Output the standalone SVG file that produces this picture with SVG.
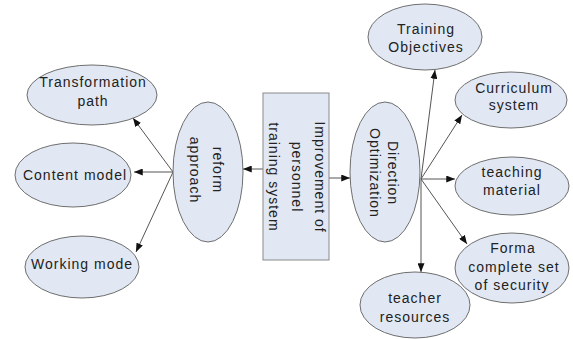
<svg xmlns="http://www.w3.org/2000/svg" width="573" height="339" viewBox="0 0 573 339">
<style>
.n{fill:#e1e8f4;stroke:#6e6e6e;stroke-width:1}
.r{fill:#e1e8f4;stroke:#8a8a8a;stroke-width:1}
text{font-family:"Liberation Sans",Arial,sans-serif;font-size:14px;fill:#222;text-anchor:middle;letter-spacing:1px}
.c line{stroke:#555;stroke-width:1;marker-end:url(#ah)}
</style>
<defs>
<marker id="ah" viewBox="0 0 10 8" refX="10" refY="4" markerWidth="9" markerHeight="7" markerUnits="userSpaceOnUse" orient="auto">
<path d="M0,0 L10,4 L0,8 z" fill="#111"/>
</marker>
</defs>
<rect width="573" height="339" fill="#fff"/>
<g class="c">
<line x1="263" y1="169" x2="243" y2="169"/>
<line x1="329" y1="178" x2="350" y2="178"/>
<line x1="173" y1="172" x2="133" y2="118"/>
<line x1="173" y1="172" x2="134" y2="172"/>
<line x1="173" y1="172" x2="136" y2="252"/>
<line x1="421" y1="179" x2="435" y2="70"/>
<line x1="421" y1="179" x2="462" y2="115"/>
<line x1="421" y1="179" x2="455" y2="179"/>
<line x1="421" y1="179" x2="467" y2="244"/>
<line x1="421" y1="179" x2="421" y2="272"/>
</g>
<g id="center">
<rect class="r" x="263" y="93" width="66" height="167"/>
<g transform="translate(296,177) rotate(90)">
<text y="-19">Improvement of</text>
<text y="4">personnel</text>
<text y="27">training system</text>
</g>
</g>
<g id="reform">
<ellipse class="n" cx="208" cy="172" rx="35" ry="70"/>
<g transform="translate(208,170) rotate(90)">
<text y="-5">reform</text>
<text y="18">approach</text>
</g>
</g>
<g id="direction">
<ellipse class="n" cx="385" cy="172" rx="35" ry="70"/>
<g transform="translate(385,173) rotate(90)">
<text y="-3">Direction</text>
<text y="15">Optimization</text>
</g>
</g>
<g id="transformation">
<ellipse class="n" cx="92" cy="95" rx="65" ry="30"/>
<text x="93" y="87">Transformation</text>
<text x="93" y="106">path</text>
</g>
<g id="content">
<ellipse class="n" cx="73" cy="175" rx="58" ry="32"/>
<text x="75" y="180">Content model</text>
</g>
<g id="working">
<ellipse class="n" cx="82" cy="267" rx="57" ry="31"/>
<text x="82" y="269">Working mode</text>
</g>
<g id="objectives">
<ellipse class="n" cx="425" cy="37" rx="57" ry="33"/>
<text x="426" y="34">Training</text>
<text x="426" y="52">Objectives</text>
</g>
<g id="curriculum">
<ellipse class="n" cx="511" cy="100" rx="56" ry="28"/>
<text x="514" y="93">Curriculum</text>
<text x="514" y="110">system</text>
</g>
<g id="teaching">
<ellipse class="n" cx="512" cy="186" rx="57" ry="29"/>
<text x="512" y="177">teaching</text>
<text x="512" y="195">material</text>
</g>
<g id="forma">
<ellipse class="n" cx="512" cy="268" rx="57" ry="35"/>
<text x="513" y="253">Forma</text>
<text x="514" y="272">complete set</text>
<text x="512" y="290">of security</text>
</g>
<g id="teacher">
<ellipse class="n" cx="415" cy="305" rx="55" ry="33"/>
<text x="415" y="303">teacher</text>
<text x="415" y="322">resources</text>
</g>
</svg>
